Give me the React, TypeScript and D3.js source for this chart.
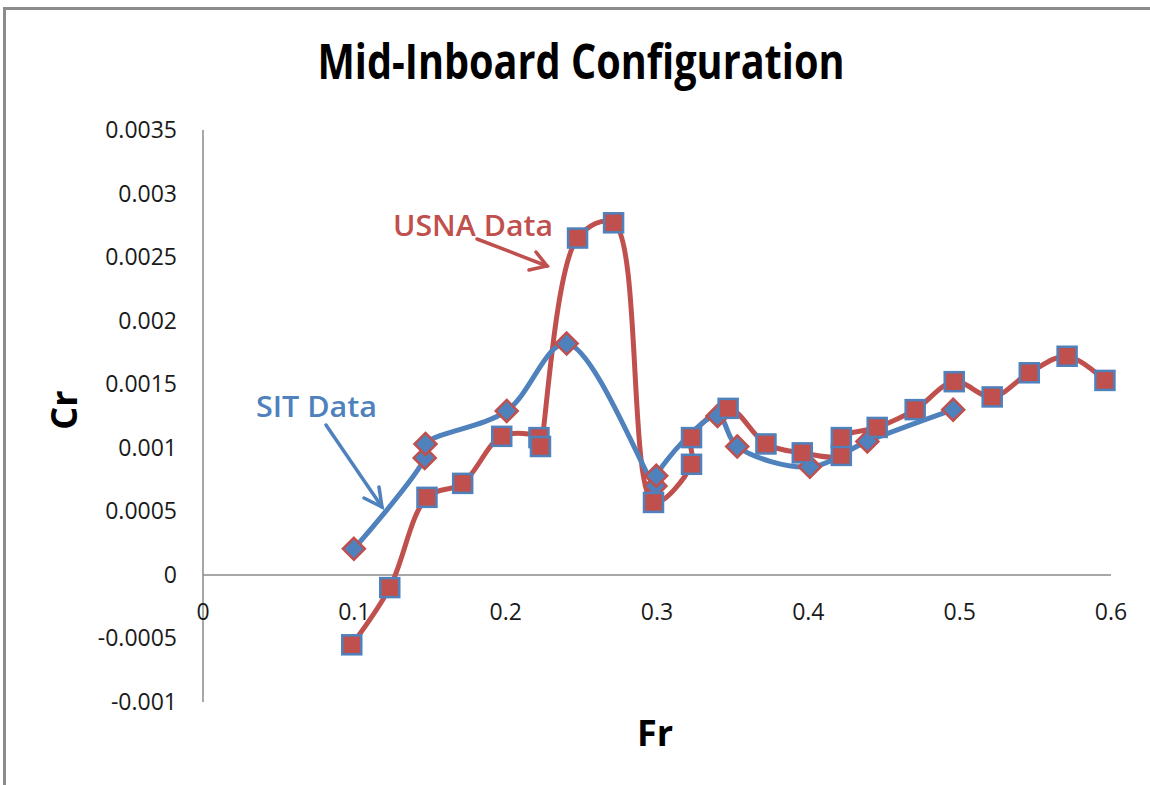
import React from "react";
import * as d3 from "d3";

const usnaFr = [0.0983, 0.1234, 0.148, 0.1716, 0.1974, 0.222, 0.223, 0.2475, 0.2713, 0.2977, 0.3228, 0.3228, 0.347, 0.372, 0.396, 0.4218, 0.4218, 0.4455, 0.4706, 0.4964, 0.5215, 0.546, 0.571, 0.596];
const usnaCr = [-0.00055, -0.0001, 0.00061, 0.00072, 0.00109, 0.00108, 0.00101, 0.00265, 0.00277, 0.00057, 0.00087, 0.00108, 0.00131, 0.00103, 0.00096, 0.00094, 0.00108, 0.00116, 0.0013, 0.00152, 0.0014, 0.00159, 0.00172, 0.00153];

const sitFr = [0.0997, 0.1465, 0.147, 0.2007, 0.2403, 0.299, 0.2995, 0.34, 0.353, 0.401, 0.439, 0.4957];
const sitCr = [0.000205, 0.00092, 0.00103, 0.00129, 0.00182, 0.0007, 0.00078, 0.00125, 0.00101, 0.00085, 0.00105, 0.0013];

const xTicks = [0, 0.1, 0.2, 0.3, 0.4, 0.5, 0.6];
const xTickLabels = ["0", "0.1", "0.2", "0.3", "0.4", "0.5", "0.6"];
const yTicks = [0.0035, 0.003, 0.0025, 0.002, 0.0015, 0.001, 0.0005, 0, -0.0005, -0.001];
const yTickLabels = ["0.0035", "0.003", "0.0025", "0.002", "0.0015", "0.001", "0.0005", "0", "-0.0005", "-0.001"];

const RED = "#C0504D";
const BLUE = "#4F81BD";

export default function App() {
  const x = d3.scaleLinear().domain([0, 0.6]).range([203, 1111]);
  const y = d3.scaleLinear().domain([-0.001, 0.0035]).range([702, 130]);

  const usna = usnaFr.map((f, i) => [f, usnaCr[i]] as [number, number]);
  const sit = sitFr.map((f, i) => [f, sitCr[i]] as [number, number]);

  const line = d3
    .line<[number, number]>()
    .x((d) => x(d[0]))
    .y((d) => y(d[1]))
    .curve(d3.curveCatmullRom.alpha(0.5));

  const tickFont = "'Open Sans', 'Liberation Sans', sans-serif";
  const sq = 19;
  const dm = 11;

  return (
    <svg
      width={1150}
      height={785}
      style={{ position: "absolute", left: 0, top: 0, background: "#fff" }}
    >
      <rect x={0} y={0} width={1150} height={785} fill="#fff" />
      {/* frame */}
      <line x1={4.5} y1={8} x2={4.5} y2={785} stroke="#8c8c8c" strokeWidth={3} />
      <line x1={3} y1={8.5} x2={1150} y2={8.5} stroke="#8c8c8c" strokeWidth={3} />

      {/* title */}
      <text
        x={581}
        y={79}
        textAnchor="middle"
        fontFamily="'Open Sans', 'Liberation Sans', sans-serif"
        fontWeight="bold"
        fontSize={49}
        textLength={527}
        lengthAdjust="spacingAndGlyphs"
        fill="#000"
      >
        Mid-Inboard Configuration
      </text>

      {/* axes */}
      <line x1={x(0)} y1={y(0.0035)} x2={x(0)} y2={y(-0.001)} stroke="#8a8a8a" strokeWidth={1.5} />
      <line x1={x(0)} y1={y(0)} x2={x(0.6)} y2={y(0)} stroke="#8a8a8a" strokeWidth={1.5} />

      {yTicks.map((t, i) => (
        <text
          key={"y" + i}
          x={177}
          y={y(t)}
          dy="0.35em"
          textAnchor="end"
          fontFamily={tickFont}
          fontSize={23}
          fill="#1a1a1a"
        >
          {yTickLabels[i]}
        </text>
      ))}
      {xTicks.map((t, i) => (
        <text
          key={"x" + i}
          x={x(t)}
          y={620}
          textAnchor="middle"
          fontFamily={tickFont}
          fontSize={23}
          fill="#1a1a1a"
        >
          {xTickLabels[i]}
        </text>
      ))}

      {/* axis titles */}
      <text
        x={655}
        y={746}
        textAnchor="middle"
        fontFamily="'Open Sans', 'Liberation Sans', sans-serif"
        fontWeight="bold"
        fontSize={36}
        fill="#000"
      >
        Fr
      </text>
      <text
        transform="translate(77,410) rotate(-90)"
        textAnchor="middle"
        fontFamily="'Open Sans', 'Liberation Sans', sans-serif"
        fontWeight="bold"
        fontSize={36}
        fill="#000"
      >
        Cr
      </text>

      {/* lines */}
      <path d={line(usna) || ""} fill="none" stroke={RED} strokeWidth={5} strokeLinejoin="round" />
      <path d={line(sit) || ""} fill="none" stroke={BLUE} strokeWidth={5} strokeLinejoin="round" />

      {/* SIT diamonds */}
      {sit.map((d, i) => {
        const cx = x(d[0]);
        const cy = y(d[1]);
        return (
          <polygon
            key={"d" + i}
            points={`${cx},${cy - dm} ${cx + dm},${cy} ${cx},${cy + dm} ${cx - dm},${cy}`}
            fill={BLUE}
            stroke={RED}
            strokeWidth={2.5}
          />
        );
      })}

      {/* USNA squares */}
      {usna.map((d, i) => (
        <rect
          key={"s" + i}
          x={x(d[0]) - sq / 2}
          y={y(d[1]) - sq / 2}
          width={sq}
          height={sq}
          fill={RED}
          stroke={BLUE}
          strokeWidth={2.5}
        />
      ))}

      {/* annotations */}
      <text
        x={393}
        y={236}
        fontFamily="'Open Sans', 'Liberation Sans', sans-serif"
        fontSize={29}
        fontWeight={600}
        textLength={160}
        lengthAdjust="spacingAndGlyphs"
        fill={RED}
      >
        USNA Data
      </text>
      <g stroke={RED} strokeWidth={3.5} fill="none" strokeLinecap="round">
        <line x1={477} y1={239} x2={547} y2={266} />
        <polyline points="529,270 547,266 536,252" />
      </g>

      <text
        x={256}
        y={417}
        fontFamily="'Open Sans', 'Liberation Sans', sans-serif"
        fontSize={29}
        fontWeight={600}
        textLength={121}
        lengthAdjust="spacingAndGlyphs"
        fill={BLUE}
      >
        SIT Data
      </text>
      <g stroke={BLUE} strokeWidth={3.5} fill="none" strokeLinecap="round">
        <line x1={326} y1={425} x2={382} y2={507} />
        <polyline points="364,498 382,507 379,487" />
      </g>
    </svg>
  );
}
